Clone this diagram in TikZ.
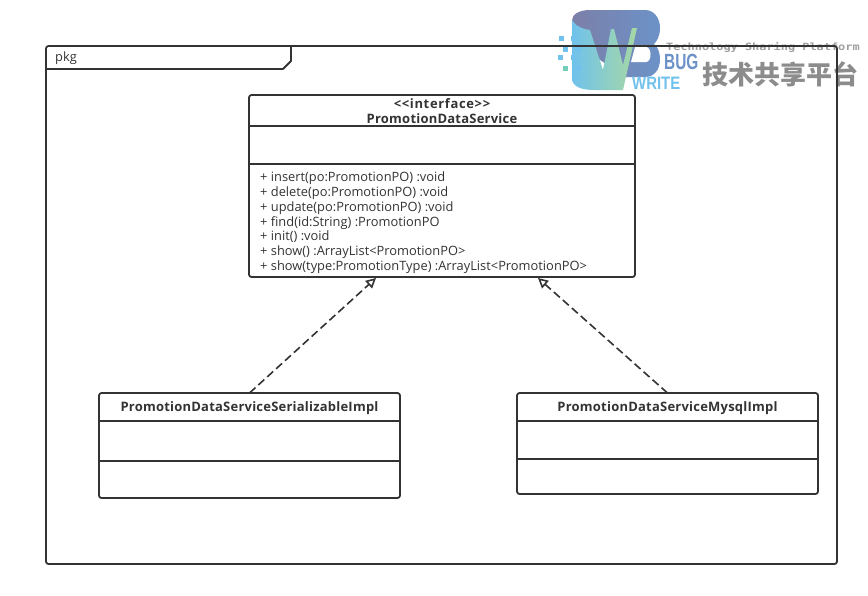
\documentclass[tikz,border=0pt]{standalone}
\usepackage{fontspec}
\setmainfont{Open Sans}
\newfontfamily\cjkfont{Noto Sans CJK SC}
\newfontfamily\logofont{Liberation Sans}
\newfontfamily\tagfont{DejaVu Sans Mono}
\usetikzlibrary{arrows.meta}
\definecolor{umlline}{HTML}{333333}
\definecolor{logodark}{HTML}{7C7FA8}
\definecolor{logoblue}{HTML}{6C92C8}
\definecolor{logosky}{HTML}{70C2EC}
\definecolor{logogreen}{HTML}{A6D8A4}
\definecolor{logoteal}{HTML}{74CDB8}
\tikzset{
    classbox/.style={draw=umlline, line width=1.8pt, rounded corners=2.5pt, inner sep=0pt, outer sep=0pt},
    classname/.style={text=umlline, font=\fontsize{13}{14.5}\selectfont\bfseries\addfontfeature{LetterSpace=1.7}, align=center},
    realize/.style={draw=umlline, line width=1.6pt, dash pattern=on 8pt off 4pt, -{Triangle[open, length=10pt, width=10pt]}},
}
\begin{document}
\begin{tikzpicture}[x=1pt, y=-1pt, line join=round]
    \useasboundingbox (0,0) rectangle (868,595);

    % logo
    \shade[left color=logodark, middle color=logodark, right color=logoblue] (572,20) .. controls (572,14) and (580,10) .. (590,10) -- (645,10) .. controls (654,10) and (660,18) .. (660,28) .. controls (660,36) and (657,41) .. (654,44) .. controls (658,47) and (660,53) .. (660,59) .. controls (660,70) and (654,77) .. (645,77) -- (626,77) -- (600,60) -- cycle;
    \shade[left color=logosky, middle color=logosky!85!logogreen, right color=logogreen] (572,20) -- (572,80) .. controls (574,88) and (584,90) .. (594,90) -- (623,90) -- (637,28) -- (632,28) -- (623,65) -- (614,29) -- (611,29) -- (603,70) -- (590,30) .. controls (582,29) and (574,25) .. (572,20) -- cycle;
    \fill[white] (635,47) -- (646,47) .. controls (652,47) and (652,62) .. (646,62) -- (631,62) -- cycle;
    \foreach \x/\y in {561/38, 573/38, 565/49, 578/49, 560/57, 573/57, 578/68} {
        \fill[logosky] (\x-2.5,\y-2.5) rectangle (\x+2.5,\y+2.5);
    }
    \fill[logoteal] (562.5,65.5) rectangle (567.5,70.5);
    \node[anchor=west, inner sep=0pt, text=logoblue, font=\logofont\fontsize{22}{22}\selectfont\bfseries, xscale=0.7] (bugtext) at (664,62) {BUG};
    \node[anchor=west, inner sep=0pt, text=logosky, font=\logofont\fontsize{18}{18}\selectfont\bfseries, xscale=0.83] (writetext) at (632,83.5) {WRITE};
    \node[anchor=west, inner sep=0pt, text=black!38, font=\tagfont\fontsize{10}{10}\selectfont\bfseries, xscale=1.19] (tagtext) at (666,47) {Technology Sharing Platform};
    \node[anchor=west, inner sep=0pt, text=black!45, font=\cjkfont\fontsize{26}{26}\selectfont\bfseries] (cntext) at (702,74) {技术共享平台};

    % package frame
    \draw[umlline, line width=1.8pt, rounded corners=2.5pt] (46,46) rectangle (837,564);
    \draw[umlline, line width=1.8pt] (46,69) -- (283,69) -- (291,61) -- (291,46);
    \node[anchor=base west, inner sep=0pt, text=umlline, font=\fontsize{12.8}{15}\selectfont] (pkgname) at (55,61) {pkg};

    % class boxes
    \node[classbox, minimum width=386pt, minimum height=182pt] (service) at (442,186) {};
    \node[classbox, minimum width=301pt, minimum height=105pt] (serializable) at (249.5,445.5) {};
    \node[classbox, minimum width=301pt, minimum height=101pt] (mysql) at (667.5,443.5) {};

    % compartments
    \foreach \cls/\y in {service/126, service/164, serializable/421, serializable/461, mysql/421, mysql/459} {
        \draw[umlline, line width=1.8pt] (\cls.west |- 0,\y) -- (\cls.east |- 0,\y);
    }

    % class names
    \node[classname] (servicename) at (442,111) {{\addfontfeature{LetterSpace=5}<{}<interface>{}>}\\PromotionDataService};
    \node[classname] (serializablename) at (249.5,408.5) {PromotionDataServiceSerializableImpl};
    \node[classname] (mysqlname) at (667.5,408.5) {PromotionDataServiceMysqlImpl};

    % methods
    \node[anchor=north west, inner sep=0pt, text=umlline, align=left, font=\fontsize{12.85}{14.85}\selectfont] (methods) at (260,171.5) {+ insert(po:PromotionPO) :void\\
    + delete(po:PromotionPO) :void\\
    + update(po:PromotionPO) :void\\
    + find(id:String) :PromotionPO\\
    + init() :void\\
    + show() :ArrayList<PromotionPO>\\
    + show(type:PromotionType) :ArrayList<PromotionPO>};

    % realization
    \coordinate (tipleft) at (376,278);
    \coordinate (tipright) at (538,278);
    \draw[realize] (serializable.north) -- (tipleft);
    \draw[realize] (mysql.north) -- (tipright);
\end{tikzpicture}
\end{document}
